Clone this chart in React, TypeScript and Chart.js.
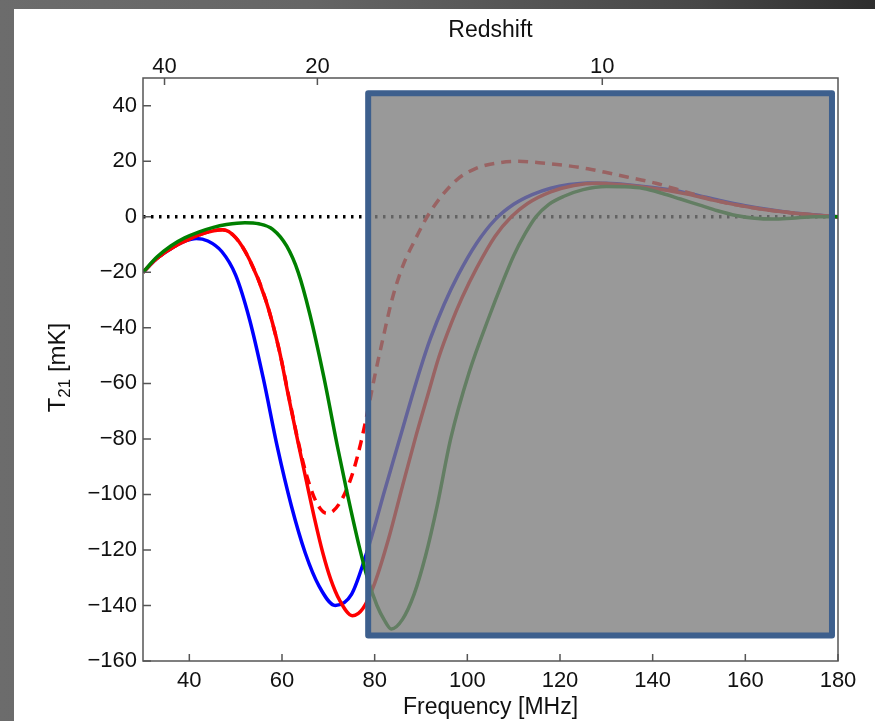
import React, { useEffect, useRef } from "react";
import { Chart, registerables } from "chart.js";

Chart.register(...registerables);

// ---- data (frequency in MHz, brightness temperature in mK) ----
const blueFreq = [30, 33, 36, 39, 41.5, 44, 47, 50, 53, 56, 59, 62, 65, 68, 71.5, 75, 78, 80, 82, 84, 86, 88, 90, 92, 95, 98, 102, 106, 110, 114, 118, 122, 126, 130, 135, 140, 145, 150, 155, 160, 165, 170, 175, 180];
const blueT = [-20, -15, -11.5, -8.8, -7.8, -8.7, -12.5, -21, -37, -58.5, -83, -104, -121, -133, -140, -136, -122.5, -111.5, -99.5, -88, -76.5, -65, -54, -44, -31.5, -21, -9.5, -1, 4.5, 8, 10.3, 11.6, 12.2, 12.1, 11.5, 10.6, 9.4, 7.6, 5.7, 4.0, 2.6, 1.5, 0.7, 0];

const redFreq = [30, 33, 36, 39, 42, 45, 47.2, 50, 53, 56.5, 59.4, 61.5, 63.5, 65.2, 67, 68.8, 70.5, 72.4, 75.2, 77.5, 80, 83, 86, 88.9, 91.5, 93.9, 96.5, 98.9, 102, 106, 109.5, 113, 118, 123, 128, 133, 138, 143, 148, 153, 158, 163, 168, 173, 180];
const redT = [-20, -15, -11.5, -8.8, -6.6, -5.1, -4.7, -7.5, -15.5, -30, -48, -65.5, -81.5, -94.7, -108.5, -121, -130.5, -138, -143.7, -141, -132, -116, -97, -79, -64, -50.3, -38.5, -29, -18.5, -7, 0, 4.8, 9, 11.3, 12.1, 11.6, 10.7, 9.6, 8.0, 6.0, 4.3, 2.9, 1.8, 0.9, 0];

const dashedFreq = [30, 33, 36, 39, 42, 45, 47.2, 50, 53, 56.5, 59.4, 61.5, 63.5, 65.2, 66.8, 68.2, 69.6, 71, 72.5, 74, 75.5, 77, 78.5, 80, 81.7, 83.8, 86, 88.5, 91.8, 97.5, 102, 106.9, 111, 115.5, 121.2, 126, 131, 136, 140.7, 145, 149.3, 153, 158, 163, 168, 173, 180];
const dashedT = [-20, -15, -11.5, -8.8, -6.6, -5.1, -4.7, -7.5, -15.5, -30, -48, -65, -81, -92.5, -100.5, -105, -106.8, -106, -103, -98, -91, -81.5, -70, -57.5, -44.5, -29.5, -18, -9, 1.3, 13, 17.5, 19.5, 20, 19.5, 18.5, 17.3, 15.6, 13.8, 12.1, 10, 7.9, 6.1, 4.3, 2.9, 1.8, 0.9, 0];

const greenFreq = [30, 33, 36, 39, 42, 45, 48, 52, 55, 58, 61, 63.5, 66, 69, 72, 74, 76.7, 78.5, 80.5, 82, 83.6, 86, 88.5, 91, 93.5, 96.4, 100.4, 104.7, 107.5, 110, 112.5, 114.8, 117.6, 121, 125, 130, 134, 138, 142, 146, 150, 154, 158, 162, 166, 170, 175, 180];
const greenT = [-20, -14.5, -10.5, -7.6, -5.5, -3.9, -2.8, -2.1, -2.5, -4.5, -10.5, -20, -35, -57.5, -83, -99, -119, -130.5, -140, -145, -148.5, -145, -136, -122, -104, -80, -56, -36, -24, -14, -6, 0, 4.5, 7.5, 9.8, 10.9, 10.8, 10.2, 8.5, 6.4, 4.3, 2.2, 0.5, -0.5, -0.8, -0.5, 0, 0];

const zeroFreq = [30, 180];
const zeroT = [0, 0];

// shaded band (frequency range, temperature range)
const bandFreq = [78.6, 178.7];
const bandT = [-150.8, 44.5];

const xTicks = [40, 60, 80, 100, 120, 140, 160, 180];
const yTicks = [-160, -140, -120, -100, -80, -60, -40, -20, 0, 20, 40];
const redshiftTicks = [40, 20, 10];
const NU21 = 1420.4;

const FONT = "'Liberation Sans', Arial, sans-serif";

const pts = (xs: number[], ys: number[]) => xs.map((x, i) => ({ x, y: ys[i] }));

const overlayPlugin = {
  id: "bandOverlay",
  afterDatasetsDraw(chart: any) {
    const { ctx, scales } = chart;
    const x = scales.x;
    const y = scales.y;
    const x0 = x.getPixelForValue(bandFreq[0]);
    const x1 = x.getPixelForValue(bandFreq[1]);
    const y0 = y.getPixelForValue(bandT[1]);
    const y1 = y.getPixelForValue(bandT[0]);
    ctx.save();
    ctx.fillStyle = "rgba(125,125,125,0.79)";
    ctx.fillRect(x0, y0, x1 - x0, y1 - y0);
    ctx.strokeStyle = "#3d5f8d";
    ctx.lineWidth = 6;
    ctx.lineJoin = "round";
    ctx.strokeRect(x0, y0, x1 - x0, y1 - y0);
    ctx.restore();
  },
};

const framePlugin = {
  id: "frameAndTitles",
  afterDraw(chart: any) {
    const { ctx, chartArea, scales } = chart;
    const { left, right, top, bottom } = chartArea;
    ctx.save();
    ctx.strokeStyle = "#555";
    ctx.lineWidth = 1.5;
    ctx.strokeRect(left, top, right - left, bottom - top);
    ctx.beginPath();
    yTicks.forEach((v) => {
      const py = scales.y.getPixelForValue(v);
      ctx.moveTo(left, py);
      ctx.lineTo(left + 8, py);
    });
    xTicks.forEach((v) => {
      const px = scales.x.getPixelForValue(v);
      ctx.moveTo(px, bottom);
      ctx.lineTo(px, bottom - 7);
    });
    redshiftTicks.forEach((z) => {
      const px = scales.x2.getPixelForValue(NU21 / (1 + z));
      ctx.moveTo(px, top);
      ctx.lineTo(px, top + 7);
    });
    ctx.stroke();

    ctx.fillStyle = "#111";
    ctx.textAlign = "center";
    ctx.textBaseline = "middle";
    ctx.font = `23px ${FONT}`;
    const cx = (left + right) / 2;
    ctx.fillText("Redshift", cx, 21.5);
    ctx.fillText("Frequency [MHz]", cx, 699);

    // y title with subscript
    ctx.translate(42, (top + bottom) / 2 - 2);
    ctx.rotate(-Math.PI / 2);
    ctx.textAlign = "left";
    ctx.textBaseline = "alphabetic";
    ctx.font = `24px ${FONT}`;
    const wT = ctx.measureText("T").width;
    const wRest = ctx.measureText(" [mK]").width;
    ctx.font = `17px ${FONT}`;
    const wSub = ctx.measureText("21").width;
    let px = -(wT + wSub + wRest) / 2;
    ctx.font = `24px ${FONT}`;
    ctx.fillText("T", px, 8.5);
    px += wT;
    ctx.font = `17px ${FONT}`;
    ctx.fillText("21", px, 14);
    px += wSub;
    ctx.font = `24px ${FONT}`;
    ctx.fillText(" [mK]", px, 8.5);
    ctx.restore();
  },
};

const fmt = (v: number) => (v < 0 ? "\u2212" + Math.abs(v) : String(v));

export default function App() {
  const ref = useRef<HTMLCanvasElement | null>(null);

  useEffect(() => {
    if (!ref.current) return;
    const line = (data: any, color: string, order: number, extra: any = {}) => ({
      data,
      borderColor: color,
      borderWidth: 3.5,
      pointRadius: 0,
      fill: false,
      cubicInterpolationMode: "monotone",
      order,
      ...extra,
    });
    const chart = new Chart(ref.current, {
      type: "line",
      data: {
        datasets: [
          line(pts(greenFreq, greenT), "#008000", 1),
          line(pts(dashedFreq, dashedT), "#ff0000", 2, { borderDash: [10, 7] }),
          line(pts(redFreq, redT), "#ff0000", 3),
          line(pts(blueFreq, blueT), "#0000ff", 4),
          line(pts(zeroFreq, zeroT), "#000000", 5, { borderDash: [2.5, 5.5], borderWidth: 3.5, cubicInterpolationMode: "default", tension: 0 }),
        ] as any,
      },
      options: {
        animation: false,
        responsive: false,
        devicePixelRatio: 1,
        layout: { padding: { left: 0, right: 37, top: 0, bottom: 0 } },
        plugins: { legend: { display: false }, tooltip: { enabled: false }, title: { display: false } },
        scales: {
          x: {
            type: "linear",
            position: "bottom",
            min: 30,
            max: 180,
            grid: { display: false, drawTicks: false },
            border: { display: false },
            afterBuildTicks: (s: any) => {
              s.ticks = xTicks.map((v) => ({ value: v }));
            },
            afterFit: (s: any) => {
              s.height = 60;
            },
            ticks: { font: { family: FONT, size: 22 }, color: "#111", padding: 7, maxRotation: 0, autoSkip: false, callback: (v: any) => fmt(Number(v)) },
          },
          x2: {
            type: "linear",
            position: "top",
            min: 30,
            max: 180,
            grid: { display: false, drawTicks: false },
            border: { display: false },
            afterBuildTicks: (s: any) => {
              s.ticks = redshiftTicks.map((z) => ({ value: NU21 / (1 + z) }));
            },
            afterFit: (s: any) => {
              s.height = 69;
            },
            ticks: {
              font: { family: FONT, size: 22 },
              color: "#111",
              padding: -2,
              maxRotation: 0,
              autoSkip: false,
              callback: (v: any) => String(Math.round(NU21 / Number(v) - 1)),
            },
          },
          y: {
            type: "linear",
            min: -160,
            max: 50,
            grid: { display: false, drawTicks: false },
            border: { display: false },
            afterBuildTicks: (s: any) => {
              s.ticks = yTicks.map((v) => ({ value: v }));
            },
            afterFit: (s: any) => {
              s.width = 129;
            },
            ticks: { font: { family: FONT, size: 22 }, color: "#111", padding: 6, autoSkip: false, callback: (v: any) => fmt(Number(v)) },
          },
        },
      } as any,
      plugins: [overlayPlugin, framePlugin],
    });
    return () => chart.destroy();
  }, []);

  return (
    <div
      style={{
        position: "fixed",
        inset: 0,
        background: "linear-gradient(to right, #6c6c6c 0%, #666 35%, #474747 80%, #2e2e2e 100%)",
      }}
    >
      <canvas
        ref={ref}
        width={861}
        height={712}
        style={{ position: "absolute", left: 14, top: 9, width: 861, height: 712, background: "#fff" }}
      />
    </div>
  );
}
